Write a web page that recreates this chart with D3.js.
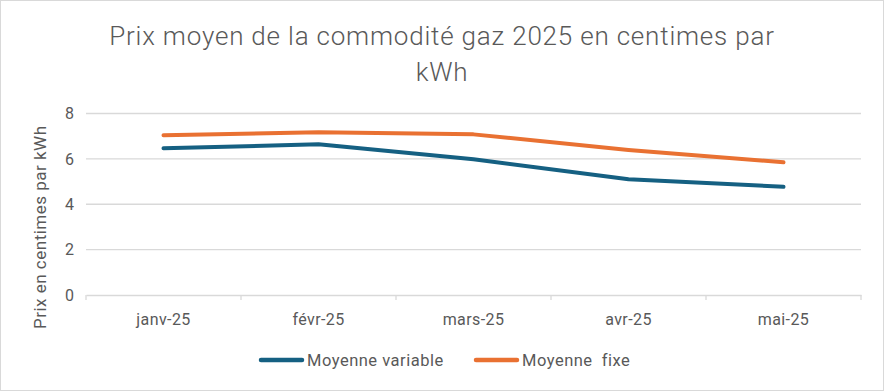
<!DOCTYPE html>
<html>
<head>
<meta charset="utf-8">
<script src="https://cdn.jsdelivr.net/npm/d3@7"></script>
<style>
    body { margin: 0; background: #fff; }
    text { font-family: Roboto, "Open Sans", sans-serif; fill: #595959; }
    .grid line { stroke: #d9d9d9; stroke-width: 1.3; }
    .axis path, .axis line { stroke: #d9d9d9; stroke-width: 1.3; }
</style>
</head>
<body>
<div id="chart"></div>
<script>
// Data
const months = ["janv-25", "févr-25", "mars-25", "avr-25", "mai-25"];
const variableAvg = [6.47, 6.64, 5.98, 5.10, 4.77];
const fixedAvg = [7.04, 7.17, 7.08, 6.39, 5.85];
const yTicks = [0, 2, 4, 6, 8];

const seriesNames = ["Moyenne variable", "Moyenne  fixe"];
const seriesColors = ["#156082", "#e97132"];

const width_raw = 885, height_raw = 392;
const margin = {top: 113.5, right: 24, bottom: 97, left: 86};
const width = width_raw - margin.left - margin.right,
    height = height_raw - margin.top - margin.bottom;

const root = d3.select("#chart").append("svg")
    .attr("width", width_raw)
    .attr("height", height_raw);

// chart frame
root.append("rect")
    .attr("x", 0.5).attr("y", 0.5)
    .attr("width", width_raw - 2).attr("height", height_raw - 2)
    .attr("fill", "#fff")
    .attr("stroke", "#d9d9d9");

const svg = root.append("g")
    .attr("transform", `translate(${margin.left}, ${margin.top})`);

// Scales
const xScale = d3.scaleBand().domain(months).range([0, width]);
const yScale = d3.scaleLinear().domain([0, 8]).range([height, 0]);

// Gridlines
svg.append("g")
    .attr("class", "grid")
    .selectAll("line")
    .data(yTicks.filter(d => d > 0))
    .enter().append("line")
    .attr("x1", 0).attr("x2", width)
    .attr("y1", d => yScale(d)).attr("y2", d => yScale(d));

// X axis
const xGroup = svg.append("g")
    .attr("class", "axis x-axis")
    .attr("transform", `translate(0, ${height})`)
    .call(d3.axisBottom(xScale).tickSize(0).tickPadding(19));
xGroup.selectAll("text")
    .style("font-size", "16px")
    .style("letter-spacing", "0.4px");

// x tick marks between categories
xGroup.selectAll(".cat-tick")
    .data(d3.range(months.length + 1))
    .enter().append("line")
    .attr("class", "cat-tick")
    .attr("x1", i => i * xScale.step()).attr("x2", i => i * xScale.step())
    .attr("y1", 0).attr("y2", 5);

// Y axis
const yGroup = svg.append("g")
    .attr("class", "axis y-axis")
    .call(d3.axisLeft(yScale).tickValues(yTicks).tickSize(0).tickPadding(12));
yGroup.select(".domain").remove();
yGroup.selectAll("text").style("font-size", "16px");

// Y label
root.append("text")
    .attr("transform", `translate(46, ${margin.top + height / 2 + 23}) rotate(-90)`)
    .attr("text-anchor", "middle")
    .style("font-size", "17px")
    .style("letter-spacing", "0.5px")
    .text("Prix en centimes par kWh");

// Title
const title = root.append("text")
    .attr("text-anchor", "middle")
    .style("font-size", "26px")
    .style("font-weight", "300")
    .style("letter-spacing", "0.8px");
title.append("tspan").attr("x", 442).attr("y", 45)
    .text("Prix moyen de la commodité gaz 2025 en centimes par");
title.append("tspan").attr("x", 442).attr("y", 81).text("kWh");

// Lines
const line = d3.line()
    .x((d, i) => xScale(months[i]) + xScale.bandwidth() / 2)
    .y(d => yScale(d));

[variableAvg, fixedAvg].forEach((s, k) => {
    svg.append("path")
        .datum(s)
        .attr("fill", "none")
        .attr("stroke", seriesColors[k])
        .attr("stroke-width", 4)
        .attr("stroke-linecap", "round")
        .attr("stroke-linejoin", "round")
        .attr("d", line);
});

// Legend
const legendX = [261, 476];
const legend = root.append("g");
seriesNames.forEach((name, k) => {
    legend.append("line")
        .attr("x1", legendX[k]).attr("x2", legendX[k] + 41)
        .attr("y1", 360).attr("y2", 360)
        .attr("stroke", seriesColors[k])
        .attr("stroke-width", 4.5)
        .attr("stroke-linecap", "round");
    legend.append("text")
        .attr("x", legendX[k] + 46)
        .attr("y", 366)
        .style("font-size", "16.5px")
        .style("letter-spacing", "0.5px")
        .style("white-space", "pre")
        .text(name);
});
</script>
</body>
</html>
